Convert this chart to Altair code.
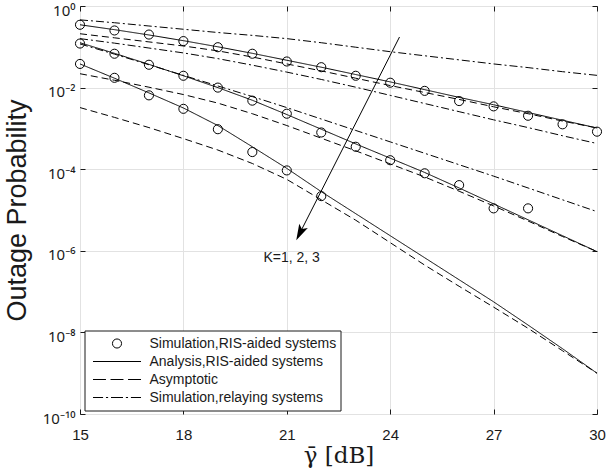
import altair as alt
import pandas as pd

# ---------------- data (log10 of outage probability) ----
snr_db = list(range(15, 31))

ana_k1 = [-0.46, -0.58, -0.71, -0.85, -1.00, -1.16, -1.33, -1.50, -1.68, -1.86, -2.05, -2.24, -2.42, -2.61, -2.80, -2.99]
ana_k2 = [-0.90, -1.16, -1.43, -1.71, -2.00, -2.31, -2.66, -3.02, -3.38, -3.73, -4.08, -4.46, -4.85, -5.24, -5.63, -6.02]
ana_k3 = [-1.42, -1.77, -2.13, -2.50, -2.93, -3.45, -3.98, -4.55, -5.09, -5.63, -6.17, -6.71, -7.25, -7.82, -8.40, -9.00]

asy_k1 = [-0.68, -0.78, -0.88, -0.98, -1.10, -1.25, -1.42, -1.59, -1.77, -1.95, -2.12, -2.29, -2.47, -2.64, -2.82, -2.99]
asy_k2 = [-1.66, -1.82, -1.99, -2.17, -2.38, -2.64, -2.93, -3.24, -3.55, -3.87, -4.19, -4.54, -4.90, -5.27, -5.65, -6.02]
asy_k3 = [-2.49, -2.73, -2.98, -3.25, -3.53, -3.86, -4.25, -4.75, -5.25, -5.80, -6.35, -6.87, -7.38, -7.90, -8.45, -9.00]

rel_k1 = [-0.34, -0.41, -0.49, -0.57, -0.65, -0.72, -0.80, -0.90, -1.01, -1.12, -1.22, -1.32, -1.42, -1.51, -1.61, -1.70]
rel_k2 = [-0.80, -0.91, -1.03, -1.15, -1.29, -1.45, -1.62, -1.80, -1.99, -2.19, -2.39, -2.59, -2.79, -2.98, -3.18, -3.37]
rel_k3 = [-0.93, -1.18, -1.44, -1.70, -1.96, -2.22, -2.49, -2.77, -3.05, -3.33, -3.61, -3.89, -4.17, -4.46, -4.75, -5.04]

sim_k1_x = list(range(15, 31))
sim_k1 = [-0.46, -0.60, -0.70, -0.86, -1.01, -1.17, -1.36, -1.50, -1.71, -1.88, -2.08, -2.33, -2.46, -2.69, -2.90, -3.08]
sim_k2_x = list(range(15, 29))
sim_k2 = [-0.92, -1.17, -1.44, -1.71, -2.00, -2.32, -2.64, -3.10, -3.45, -3.78, -4.10, -4.39, -4.96, -4.96]
sim_k3_x = list(range(15, 23))
sim_k3 = [-1.42, -1.76, -2.19, -2.52, -3.02, -3.58, -4.03, -4.66]

x_ticks = [15, 18, 21, 24, 27, 30]
y_tick_exp = [0, -2, -4, -6, -8, -10]

arrow_x = [24.27, 21.38]
arrow_logp = [-0.76, -5.564]
arrow_text = "K=1, 2, 3"
text_x = [21.14]
text_logp = [-6.17]

LBL_SIM = "Simulation,RIS-aided systems"
LBL_ANA = "Analysis,RIS-aided systems"
LBL_ASY = "Asymptotic"
LBL_REL = "Simulation,relaying systems"
types = [LBL_SIM, LBL_ANA, LBL_ASY, LBL_REL]

# ---------------- tables ----------------
rows = []
for k, (a, s, r) in enumerate([(ana_k1, asy_k1, rel_k1), (ana_k2, asy_k2, rel_k2), (ana_k3, asy_k3, rel_k3)]):
    for lbl, series in [(LBL_ANA, a), (LBL_ASY, s), (LBL_REL, r)]:
        for x, e in zip(snr_db, series):
            rows.append({"x": x, "p": 10.0 ** e, "type": lbl, "key": f"{lbl}-{k}"})
lines_df = pd.DataFrame(rows)

prow = []
for xs, es in [(sim_k1_x, sim_k1), (sim_k2_x, sim_k2), (sim_k3_x, sim_k3)]:
    for x, e in zip(xs, es):
        prow.append({"x": x, "p": 10.0 ** e, "type": LBL_SIM})
pts_df = pd.DataFrame(prow)

arrow_df = pd.DataFrame({"x": [arrow_x[0]], "p": [10.0 ** arrow_logp[0]],
                         "x2": [arrow_x[1]], "p2": [10.0 ** arrow_logp[1]]})
head_df = pd.DataFrame({"x": [arrow_x[1]], "p": [10.0 ** arrow_logp[1]]})
text_df = pd.DataFrame({"x": text_x, "p": [10.0 ** v for v in text_logp], "t": [arrow_text]})

# ---------------- styling ----------------
W, H = 517, 408
INK = "#1a1a1a"
GRID = "#e2e2e2"
SANS = "Liberation Sans"

xscale = alt.Scale(domain=[15, 30], nice=False, zero=False)
yscale = alt.Scale(type="log", domain=[1e-10, 1], nice=False)
y_tick_vals = [10.0 ** e for e in y_tick_exp]

sup = {"0": "\u2070", "1": "\u00b9", "2": "\u00b2", "3": "\u00b3", "4": "\u2074",
       "5": "\u2075", "6": "\u2076", "7": "\u2077", "8": "\u2078", "9": "\u2079", "-": "\u207b"}


def lab(e):
    return "10" + "".join(sup[c] for c in str(e))


exps = sorted(y_tick_exp, reverse=True)
expr = f"'{lab(exps[-1])}'"
for e in reversed(exps[:-1]):
    expr = f"datum.value > {10.0 ** (e - 1)} ? '{lab(e)}' : ({expr})"

CIRCLE = "M-0.19,0A0.19,0.19 0 1,1 0.19,0A0.19,0.19 0 1,1 -0.19,0Z"
SOLID = "M-1,0L1,0"
DASHED = "M-1,0L-0.46,0M-0.27,0L0.27,0M0.46,0L1,0"
DASHDOT = "M-1,0L-0.58,0M-0.46,0L-0.37,0M-0.25,0L0.25,0M0.37,0L0.46,0M0.58,0L1,0"
ARROW = "M0,1L-0.6,-1L0,-0.55L0.6,-1Z"

main_x_axis = alt.Axis(orient="bottom", values=x_ticks, grid=True, gridColor=GRID, ticks=False,
                       domain=False, labelFont=SANS, labelFontSize=15, labelColor=INK,
                       labelPadding=13, labelFlush=False, titleFont="DejaVu Serif",
                       titleFontSize=23, titleFontWeight="normal", titleColor=INK,
                       titlePadding=2)
main_y_axis = alt.Axis(orient="left", values=y_tick_vals, grid=True, gridColor=GRID, ticks=False,
                       domain=False, labelFont="Noto Sans", labelFontSize=15, labelColor=INK,
                       labelPadding=5, labelOffset=4, labelFlush=False, labelExpr=expr,
                       titleFont=SANS, titleFontSize=27, titleFontWeight="normal",
                       titleColor=INK, titlePadding=11)

lines = alt.Chart(lines_df).mark_line(color="black", strokeWidth=1).encode(
    x=alt.X("x:Q", scale=xscale, axis=main_x_axis, title="\u03b3\u0304 [dB]"),
    y=alt.Y("p:Q", scale=yscale, axis=main_y_axis, title="Outage Probability"),
    strokeDash=alt.StrokeDash("type:N", scale=alt.Scale(domain=[LBL_ANA, LBL_ASY, LBL_REL],
                                                        range=[[1, 0], [7, 4], [8, 3, 2, 3]]),
                              legend=None),
    detail="key:N",
)

points = alt.Chart(pts_df).mark_point(filled=False, size=2304, strokeWidth=1, color="black",
                                      opacity=1).encode(
    x=alt.X("x:Q", scale=xscale, axis=None),
    y=alt.Y("p:Q", scale=yscale, axis=None),
    shape=alt.Shape("type:N", scale=alt.Scale(domain=types, range=[CIRCLE, SOLID, DASHED, DASHDOT]),
                    legend=alt.Legend(title=None, orient="none", legendX=4.5, legendY=324.5,
                                      symbolSize=2304, clipHeight=18, rowPadding=0, padding=4,
                                      symbolOffset=4, labelOffset=8, strokeColor=INK,
                                      fillColor="white", labelFont=SANS, labelFontSize=14,
                                      labelColor=INK, labelLimit=400, labelAlign="left",
                                      symbolStrokeColor="black",
                                      symbolFillColor="transparent", symbolStrokeWidth=1,
                                      symbolOpacity=1, cornerRadius=0)),
)


def tick_layer(xo, yo):
    return alt.Chart(lines_df).mark_line(opacity=0).encode(
        x=alt.X("x:Q", scale=xscale, title=None,
                axis=alt.Axis(orient=xo, offset=-H, values=x_ticks, labels=False, grid=False,
                              domain=False, ticks=True, tickSize=5, tickColor=INK)),
        y=alt.Y("p:Q", scale=yscale, title=None,
                axis=alt.Axis(orient=yo, offset=-W, values=y_tick_vals, labels=False, grid=False,
                              domain=False, ticks=True, tickSize=5, tickColor=INK)),
        detail="key:N",
    )


arrow = alt.Chart(arrow_df).mark_rule(color="black", strokeWidth=1).encode(
    x=alt.X("x:Q", scale=xscale, axis=None), y=alt.Y("p:Q", scale=yscale, axis=None),
    x2="x2:Q", y2="p2:Q")
head = alt.Chart(head_df).mark_point(shape=ARROW, size=256, filled=True, color="black",
                                     opacity=1, angle=27, strokeWidth=0.5).encode(
    x=alt.X("x:Q", scale=xscale, axis=None), y=alt.Y("p:Q", scale=yscale, axis=None))
label = alt.Chart(text_df).mark_text(font=SANS, fontSize=14, color=INK, align="center",
                                     baseline="middle").encode(
    x=alt.X("x:Q", scale=xscale, axis=None), y=alt.Y("p:Q", scale=yscale, axis=None), text="t:N")

chart = alt.layer(lines, tick_layer("top", "right"), tick_layer("bottom", "left"),
                  points, arrow, head, label).resolve_axis(
    x="independent", y="independent").properties(
    width=W, height=H, padding={"left": 80, "top": 6, "right": 11, "bottom": 60},
    autosize=alt.AutoSizeParams(type="none"), background="white",
).configure_view(stroke=INK, strokeWidth=1)

chart.save("out.html", embed_options={"renderer": "svg", "actions": False})
